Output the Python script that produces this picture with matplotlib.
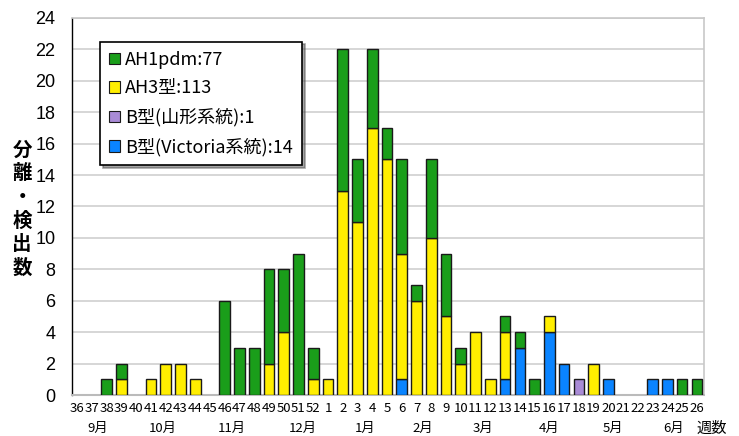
import matplotlib
matplotlib.use("Agg")
import matplotlib.pyplot as plt
import numpy as np

plt.rcParams['font.family'] = ['Noto Sans CJK JP', 'DejaVu Sans']

# week labels (36th week of the year to 26th week of next year)
weeks = [str(w) for w in range(36, 53)] + [str(w) for w in range(1, 27)]

# counts per week for each type
ah1pdm = [0, 0, 1, 1, 0, 0, 0, 0, 0, 0, 6, 3, 3, 6, 4, 9, 2,
          0, 9, 4, 5, 2, 6, 1, 5, 4, 1, 0, 0, 1, 1, 1, 0, 0, 0, 0, 0, 0, 0, 0, 0, 1, 1]
ah3 = [0, 0, 0, 1, 0, 1, 2, 2, 1, 0, 0, 0, 0, 2, 4, 0, 1,
       1, 13, 11, 17, 15, 8, 6, 10, 5, 2, 4, 1, 3, 0, 0, 1, 0, 0, 2, 0, 0, 0, 0, 0, 0, 0]
b_yamagata = [0] * 17 + [0, 0, 0, 0, 0, 0, 0, 0, 0, 0, 0, 0, 0, 0, 0, 0, 0, 1, 0, 0, 0, 0, 0, 0, 0, 0]
b_victoria = [0] * 17 + [0, 0, 0, 0, 0, 1, 0, 0, 0, 0, 0, 0, 1, 3, 0, 4, 2, 0, 0, 1, 0, 0, 1, 1, 0, 0]

months = ['9月', '10月', '11月', '12月', '1月', '2月', '3月', '4月', '5月', '6月']
month_pos = [1.4, 5.8, 10.5, 15.3, 19.5, 23.4, 27.5, 32.0, 36.3, 40.4]

labels = ['AH1pdm:77', 'AH3型:113', 'B型(山形系統):1', 'B型(Victoria系統):14']
colors = {'g': '#1a9e1a', 'y': '#ffee00', 'p': '#a98bd6', 'b': '#0a84ff'}

x = np.arange(len(weeks))
fig = plt.figure(figsize=(7.39, 4.36), dpi=100)
ax = fig.add_axes([0.0974, 0.094, 0.855, 0.865])

w = 0.72
ec = '#1a1a1a'
bv = np.array(b_victoria)
bp = np.array(b_yamagata)
y3 = np.array(ah3)
g1 = np.array(ah1pdm)

def draw(vals, bottom, color, label):
    mask = vals > 0
    ax.bar(x[mask], vals[mask], w, bottom=bottom[mask], color=color,
           edgecolor=ec, linewidth=1.0, zorder=3)
    # legend proxy
    ax.bar([0], [0], w, color=color, edgecolor=ec, linewidth=0.8, label=label)

base = np.zeros(len(weeks))
draw(bv, base, colors['b'], labels[3])
base = base + bv
draw(bp, base, colors['p'], labels[2])
base = base + bp
draw(y3, base, colors['y'], labels[1])
base = base + y3
draw(g1, base, colors['g'], labels[0])

ax.set_xlim(-0.35, 42.47)
ax.set_ylim(0, 24)
ax.set_yticks(range(0, 25, 2))
ax.yaxis.grid(True, color='#d0d0d0', linewidth=1.2, zorder=0)
ax.set_axisbelow(True)

ax.set_xticks(x)
ax.set_xticklabels(weeks, fontsize=9.5)
ax.tick_params(axis='x', length=0, pad=5)
ax.tick_params(axis='y', length=0, pad=12, labelsize=13)
for lab in ax.get_yticklabels():
    lab.set_family(['Liberation Sans', 'DejaVu Sans'])

for s in ['top', 'right']:
    ax.spines[s].set_color('#c8c8c8')
    ax.spines[s].set_linewidth(1.2)
ax.spines['bottom'].set_color('#bbbbbb')
ax.spines['bottom'].set_linewidth(1.5)
ax.spines['left'].set_color('black')
ax.spines['left'].set_linewidth(1.0)

for m, p in zip(months, month_pos):
    ax.text(p, -2.12, m, ha='center', va='center', fontsize=9.5)
ax.text(43.0, -2.12, '週数', ha='center', va='center', fontsize=11, clip_on=False)

fig.text(0.030, 0.52, '分\n離\n・\n検\n出\n数', ha='center', va='center',
         fontsize=14, fontweight='bold', linespacing=1.3)

h, l = ax.get_legend_handles_labels()
order = [3, 2, 1, 0]
leg = ax.legend([h[i] for i in order], [l[i] for i in order],
                loc='upper left', bbox_to_anchor=(0.044, 0.937), borderaxespad=0,
                fontsize=13, frameon=True, fancybox=False, shadow=True,
                edgecolor='black', handlelength=0.6, handleheight=0.6,
                handletextpad=0.3, labelspacing=0.6, borderpad=0.5)
leg.get_frame().set_linewidth(1.2)

fig.savefig('out.png', dpi=100)
